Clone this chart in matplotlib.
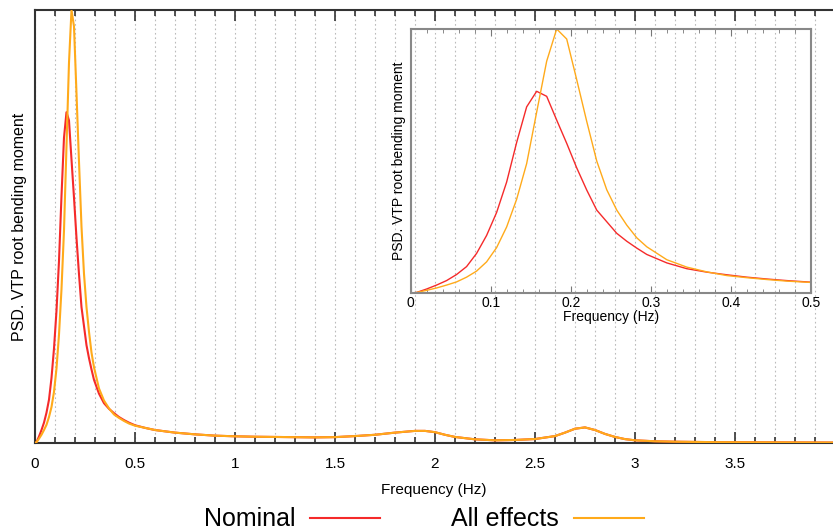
import matplotlib
matplotlib.use("Agg")
import matplotlib.pyplot as plt
from matplotlib.lines import Line2D
from matplotlib.ticker import MultipleLocator

plt.rcParams['font.family'] = ['Liberation Sans', 'DejaVu Sans']

# frequency grid (Hz) used for both load cases
freq = [0, 0.0075, 0.02, 0.0325, 0.045, 0.0575, 0.07, 0.0825, 0.095, 0.1075,
        0.12, 0.1325, 0.145, 0.1575, 0.17, 0.1825, 0.195, 0.2075, 0.22, 0.2325,
        0.245, 0.2575, 0.27, 0.2825, 0.295, 0.32, 0.345, 0.37, 0.395, 0.42,
        0.445, 0.47, 0.5, 0.55, 0.6, 0.7, 0.8, 0.9, 1.0, 1.1, 1.2, 1.3, 1.4,
        1.5, 1.6, 1.7, 1.8, 1.9, 1.95, 2.0, 2.05, 2.1, 2.2, 2.3, 2.4, 2.5,
        2.6, 2.65, 2.7, 2.75, 2.8, 2.85, 2.9, 2.95, 3.0, 3.1, 3.2, 3.4, 3.7, 4.0]

# normalised PSD (no units on the original y axis)
psd_nominal = [0, 0.002, 0.015, 0.030, 0.047, 0.070, 0.100, 0.150, 0.218, 0.305,
               0.420, 0.570, 0.705, 0.764, 0.745, 0.655, 0.567, 0.474, 0.390, 0.314,
               0.270, 0.226, 0.196, 0.170, 0.146, 0.114, 0.092, 0.079, 0.069, 0.060,
               0.053, 0.047, 0.041, 0.035, 0.030, 0.024, 0.020, 0.017, 0.0155, 0.0145,
               0.014, 0.0135, 0.013, 0.0136, 0.016, 0.019, 0.024, 0.028, 0.028, 0.025,
               0.019, 0.014, 0.0085, 0.0062, 0.007, 0.0092, 0.016, 0.024, 0.033, 0.036,
               0.030, 0.021, 0.014, 0.009, 0.0062, 0.004, 0.003, 0.002, 0.0015, 0.001]

psd_all = [0, 0.002, 0.010, 0.019, 0.030, 0.042, 0.060, 0.083, 0.118, 0.172,
           0.250, 0.355, 0.490, 0.685, 0.878, 1.0, 0.962, 0.808, 0.650, 0.500,
           0.391, 0.314, 0.257, 0.209, 0.175, 0.126, 0.098, 0.080, 0.066, 0.058,
           0.051, 0.045, 0.040, 0.035, 0.030, 0.024, 0.020, 0.017, 0.0155, 0.0145,
           0.014, 0.0135, 0.013, 0.0136, 0.016, 0.019, 0.024, 0.028, 0.028, 0.025,
           0.019, 0.014, 0.0085, 0.0062, 0.007, 0.0092, 0.016, 0.024, 0.033, 0.036,
           0.030, 0.021, 0.014, 0.009, 0.0062, 0.004, 0.003, 0.002, 0.0015, 0.001]

c_nom = '#f52a2a'
c_all = '#ffaa1a'

fig = plt.figure(figsize=(8.33, 5.31), dpi=100)

# main axes, cut at the right edge of the canvas like the original
ax = fig.add_axes([0.042, 0.1657, 0.958, 0.8155])
ax.plot(freq, psd_nominal, color=c_nom, lw=1.5, zorder=3)
ax.plot(freq, psd_all, color=c_all, lw=1.5, zorder=4)
ax.set_xlim(0, 3.99)
ax.set_ylim(0, 1.0)
ax.xaxis.set_major_locator(MultipleLocator(0.5))
ax.xaxis.set_minor_locator(MultipleLocator(0.1))
ax.xaxis.set_major_formatter(plt.FuncFormatter(lambda v, p: '%g' % v))
ax.tick_params(axis='x', which='major', direction='in', length=8, width=1.2,
               top=True, labelsize=11, pad=10, color='#333333')
ax.tick_params(axis='x', which='minor', direction='in', length=4, width=1.2,
               top=True, color='#333333')
ax.set_yticks([])
ax.grid(True, axis='x', which='both', ls=(0, (1.5, 2.5)), color='#bbbbbb', lw=0.8)
for s in ax.spines.values():
    s.set_linewidth(1.5)
    s.set_color('#333333')
ax.spines['right'].set_visible(False)
ax.set_xlabel('Frequency (Hz)', fontsize=11, labelpad=9)
ax.set_ylabel('PSD. VTP root bending moment', fontsize=11.5)
ax.yaxis.set_label_coords(-0.010, 0.5)

# inset zoom on the first mode
ins = fig.add_axes([0.4928, 0.4482, 0.4808, 0.4972])
ins.patch.set_alpha(0)
ins.plot(freq, psd_nominal, color=c_nom, lw=1.0)
ins.plot(freq, psd_all, color=c_all, lw=1.0)
ins.set_xlim(0, 0.5)
ins.set_ylim(0, 1.0)
ins.xaxis.set_major_locator(MultipleLocator(0.1))
ins.xaxis.set_minor_locator(MultipleLocator(0.02))
ins.xaxis.set_major_formatter(plt.FuncFormatter(lambda v, p: '%g' % v))
ins.tick_params(axis='x', which='major', direction='in', length=5, top=True,
                labelsize=10, pad=2, color='#777777')
ins.tick_params(axis='x', which='minor', direction='in', length=3, top=True,
                color='#777777')
ins.set_yticks([])
for s in ins.spines.values():
    s.set_linewidth(1.5)
    s.set_color('#888888')
ins.set_xlabel('Frequency (Hz)', fontsize=10, labelpad=0)
ins.set_ylabel('PSD. VTP root bending moment', fontsize=10, labelpad=3)

handles = [Line2D([], [], color=c_nom, lw=1.5), Line2D([], [], color=c_all, lw=1.5)]
fig.legend(handles, ['Nominal', 'All effects'], loc='center',
           bbox_to_anchor=(0.509, 0.022), ncol=2, markerfirst=False, frameon=False,
           fontsize=18, handlelength=2.8, handletextpad=0.6, columnspacing=2.85)

fig.savefig('out.png', dpi=100)
